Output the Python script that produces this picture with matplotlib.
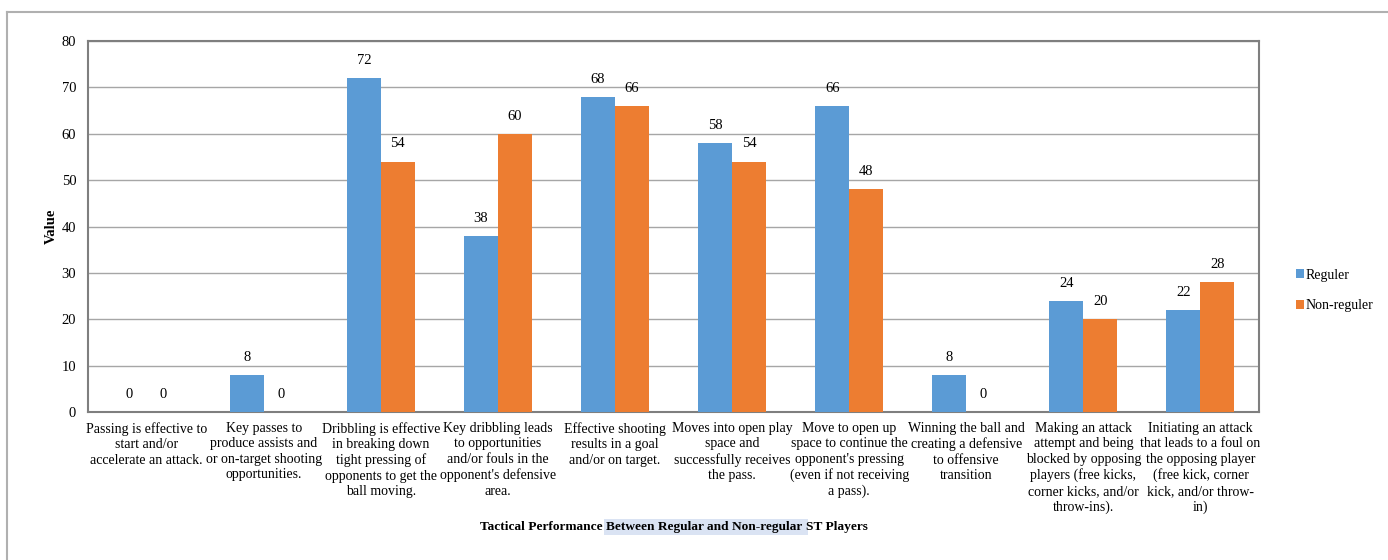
import numpy as np
from matplotlib import pyplot as plt
from matplotlib.lines import Line2D

# chart data
categories = [
    "Passing is effective to\nstart and/or\naccelerate an attack.",
    "Key passes to\nproduce assists and\nor on-target shooting\nopportunities.",
    "Dribbling is effective\nin breaking down\ntight pressing of\nopponents to get the\nball moving.",
    "Key dribbling leads\nto opportunities\nand/or fouls in the\nopponent's defensive\narea.",
    "Effective shooting\nresults in a goal\nand/or on target.",
    "Moves into open play\nspace and\nsuccessfully receives\nthe pass.",
    "Move to open up\nspace to continue the\nopponent's pressing\n(even if not receiving\na pass).",
    "Winning the ball and\ncreating a defensive\nto offensive\ntransition",
    "Making an attack\nattempt and being\nblocked by opposing\nplayers (free kicks,\ncorner kicks, and/or\nthrow-ins).",
    "Initiating an attack\nthat leads to a foul on\nthe opposing player\n(free kick, corner\nkick, and/or throw-\nin)",
]
reguler = [0, 8, 72, 38, 68, 58, 66, 8, 24, 22]
non_reguler = [0, 0, 54, 60, 66, 54, 48, 0, 20, 28]

blue = "#5B9BD5"
orange = "#ED7D31"

plt.rcParams['font.family'] = ['Liberation Serif', 'DejaVu Serif']

fig = plt.figure(figsize=(13.88, 5.6), dpi=100)
ax = fig.add_axes([88 / 1388, 1 - 412 / 560, (1259 - 88) / 1388, (412 - 41) / 560])

x = np.arange(len(categories))
w = 0.29
b1 = ax.bar(x - w / 2, reguler, w, color=blue, label="Reguler", zorder=3)
b2 = ax.bar(x + w / 2, non_reguler, w, color=orange, label="Non-reguler", zorder=3)

for bars in (b1, b2):
    for rect in bars:
        h = rect.get_height()
        ax.annotate(f"{h:g}", (rect.get_x() + rect.get_width() / 2, h),
                    xytext=(0, 8), textcoords="offset points",
                    ha="center", va="bottom", fontsize=10.5)

ax.set_xlim(-0.5, len(categories) - 0.5)
ax.set_ylim(0, 80)
ax.set_yticks(range(0, 81, 10))
ax.yaxis.grid(True, color="#A6A6A6", linewidth=1, zorder=0)
ax.set_xticks(x)
ax.set_xticklabels(categories, fontsize=10, linespacing=1.25)
ax.tick_params(axis="both", length=0)
ax.tick_params(axis="y", pad=8.5, labelsize=10.5)
ax.tick_params(axis="x", pad=7)
for s in ax.spines.values():
    s.set_color("#7F7F7F")
    s.set_linewidth(1.5)

ax.set_ylabel("Value", fontweight="bold", fontsize=10.5, labelpad=3)

ax.legend(loc="center left", bbox_to_anchor=(1037 / 1171 + 0.135, 0.328),
          frameon=False, fontsize=10, handlelength=0.6, handleheight=0.6,
          handletextpad=0.15, labelspacing=1.25)

# title, with part of it highlighted
fig.canvas.draw()
r = fig.canvas.get_renderer()
parts = ["Tactical Performance ", "Between Regular and Non-regular ", "ST Players"]
kw = dict(fontsize=9.6, fontweight="bold", va="center")
widths = []
for p in parts:
    t = fig.text(0, 0, p, **kw)
    widths.append(t.get_window_extent(r).width)
    t.remove()
xpos = 674 - sum(widths) / 2
ty = 1 - 527 / 560
for p, wd in zip(parts, widths):
    if p.startswith("Between"):
        fig.text(xpos / 1388, ty, p, ha="left",
                 bbox=dict(facecolor="#DAE3F3", edgecolor="none", pad=1.5), **kw)
    else:
        fig.text(xpos / 1388, ty, p, ha="left", **kw)
    xpos += wd

# outer frame
fig.add_artist(Line2D([7 / 1388, 7 / 1388], [0, 1 - 12 / 560], color="#B0B0B0", lw=1.5))
fig.add_artist(Line2D([7 / 1388, 1], [1 - 12 / 560, 1 - 12 / 560], color="#B0B0B0", lw=1.5))

fig.savefig("out.png", dpi=100)
